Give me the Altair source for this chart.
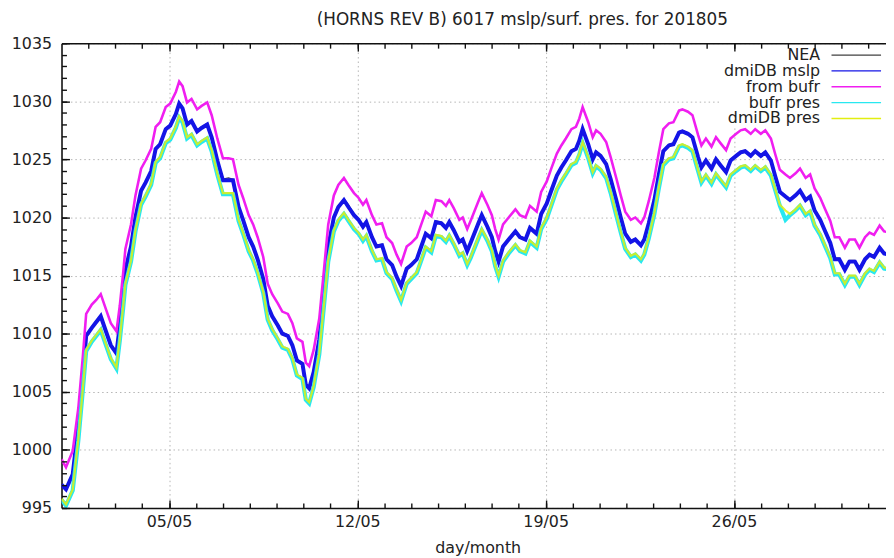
import altair as alt
import pandas as pd

FONT = "DejaVu Sans"

# hours since 2018-05-01 00:00
HOURS = [0, 4, 10, 15, 19, 22, 27, 31, 35, 40,
         44, 49, 52, 55, 57, 62, 66, 71, 75, 80,
         84, 88, 93, 97, 102, 105, 108, 112, 116, 121,
         125, 130, 134, 139, 144, 149, 153, 158, 162, 167,
         171, 175, 180, 184, 188, 193, 197, 202, 206, 210,
         215, 218, 221, 225, 230, 234, 238, 243, 247, 252,
         256, 261, 265, 269, 272, 277, 281, 286, 290, 295,
         299, 303, 308, 312, 317, 321, 325, 330, 334, 339,
         343, 346, 350, 355, 358, 362, 365, 372, 375, 380,
         384, 387, 390, 394, 399, 405, 409, 414, 418, 424,
         428, 433, 437, 442, 446, 450, 455, 459, 462, 465,
         470, 474, 477, 481, 486, 490, 495, 499, 503, 508,
         512, 517, 520, 524, 529, 533, 537, 542, 546, 551,
         554, 559, 563, 568, 571, 575, 580, 584, 588, 593,
         597, 602, 606, 610, 615, 619, 624, 628, 633, 637,
         641, 646, 650, 655, 659, 664, 668, 672, 677, 681,
         686, 690, 694, 699, 703, 708, 712, 717, 721, 725,
         730, 734, 739, 744]

NEA = [997.1, 996.7, 998.0, 1002.2, 1006.5, 1009.9, 1010.6, 1011.1, 1011.6, 1010.2,
       1009.1, 1008.4, 1010.8, 1013.6, 1015.6, 1017.6, 1020.1, 1022.4, 1023.1, 1024.1,
       1026.0, 1026.4, 1027.7, 1028.0, 1029.0, 1029.9, 1029.5, 1028.1, 1028.4, 1027.5,
       1027.8, 1028.1, 1027.0, 1025.0, 1023.3, 1023.4, 1023.3, 1021.0, 1019.9, 1018.4,
       1017.6, 1016.5, 1014.8, 1012.5, 1011.6, 1010.8, 1010.1, 1009.9, 1009.1, 1007.8,
       1007.5, 1005.7, 1005.4, 1006.8, 1009.6, 1013.6, 1017.6, 1020.1, 1021.0, 1021.6,
       1021.1, 1020.3, 1019.9, 1019.3, 1019.7, 1018.4, 1017.6, 1017.7, 1016.5, 1016.0,
       1015.0, 1014.2, 1015.7, 1016.0, 1016.5, 1017.6, 1018.7, 1018.3, 1019.7, 1019.6,
       1019.2, 1019.7, 1019.0, 1018.0, 1018.2, 1017.2, 1017.9, 1019.6, 1020.3, 1019.3,
       1018.4, 1017.2, 1016.3, 1017.6, 1018.2, 1018.9, 1018.4, 1018.2, 1019.2, 1018.7,
       1020.4, 1021.3, 1022.4, 1023.7, 1024.4, 1025.0, 1025.8, 1026.0, 1026.7, 1027.7,
       1026.4, 1025.1, 1025.7, 1025.4, 1024.7, 1023.4, 1021.6, 1020.1, 1018.7, 1018.0,
       1018.2, 1017.7, 1018.2, 1019.6, 1021.6, 1023.8, 1025.8, 1026.3, 1026.4, 1027.4,
       1027.5, 1027.3, 1027.0, 1025.3, 1024.4, 1025.0, 1024.3, 1025.1, 1024.6, 1024.0,
       1025.0, 1025.4, 1025.7, 1025.8, 1025.4, 1025.8, 1025.4, 1025.7, 1025.0, 1023.6,
       1022.3, 1021.9, 1021.6, 1022.0, 1022.4, 1021.6, 1021.9, 1020.7, 1019.9, 1019.0,
       1017.9, 1016.5, 1016.5, 1015.6, 1016.3, 1016.3, 1015.6, 1016.5, 1016.9, 1016.7,
       1017.5, 1017.0, 1016.9, 1016.6]

DMI_MSLP = [997.0, 996.6, 997.9, 1002.1, 1006.4, 1009.8, 1010.5, 1011.0, 1011.5, 1010.1,
            1009.0, 1008.3, 1010.7, 1013.5, 1015.5, 1017.5, 1020.0, 1022.3, 1023.0, 1024.0,
            1025.9, 1026.3, 1027.6, 1027.9, 1028.9, 1029.8, 1029.4, 1028.0, 1028.3, 1027.4,
            1027.7, 1028.0, 1026.9, 1024.9, 1023.2, 1023.2, 1023.2, 1020.9, 1019.8, 1018.3,
            1017.5, 1016.4, 1014.7, 1012.4, 1011.5, 1010.7, 1010.0, 1009.8, 1009.0, 1007.7,
            1007.4, 1005.6, 1005.3, 1006.7, 1009.5, 1013.5, 1017.5, 1020.0, 1020.9, 1021.5,
            1020.9, 1020.2, 1019.8, 1019.2, 1019.6, 1018.3, 1017.5, 1017.6, 1016.4, 1015.9,
            1014.9, 1014.1, 1015.6, 1015.9, 1016.4, 1017.5, 1018.6, 1018.2, 1019.6, 1019.5,
            1019.1, 1019.6, 1018.9, 1017.9, 1018.1, 1017.1, 1017.8, 1019.5, 1020.2, 1019.2,
            1018.3, 1017.1, 1016.2, 1017.5, 1018.1, 1018.8, 1018.3, 1018.1, 1019.1, 1018.6,
            1020.3, 1021.2, 1022.3, 1023.6, 1024.3, 1024.9, 1025.7, 1025.9, 1026.6, 1027.6,
            1026.3, 1025.0, 1025.6, 1025.3, 1024.6, 1023.3, 1021.5, 1020.0, 1018.6, 1017.9,
            1018.1, 1017.6, 1018.1, 1019.5, 1021.5, 1023.7, 1025.7, 1026.2, 1026.3, 1027.3,
            1027.4, 1027.2, 1026.9, 1025.2, 1024.3, 1024.9, 1024.2, 1025.0, 1024.5, 1023.9,
            1024.9, 1025.3, 1025.6, 1025.7, 1025.3, 1025.7, 1025.3, 1025.6, 1024.9, 1023.5,
            1022.2, 1021.8, 1021.5, 1021.9, 1022.3, 1021.5, 1021.8, 1020.6, 1019.8, 1018.9,
            1017.8, 1016.4, 1016.4, 1015.5, 1016.2, 1016.2, 1015.5, 1016.4, 1016.8, 1016.6,
            1017.4, 1016.9, 1016.8, 1016.5]

FROM_BUFR = [999.2, 998.5, 999.9, 1003.6, 1008.0, 1011.7, 1012.5, 1012.9, 1013.4, 1012.0,
             1010.9, 1010.2, 1012.4, 1015.2, 1017.3, 1019.4, 1021.9, 1024.2, 1024.9, 1025.9,
             1027.8, 1028.2, 1029.5, 1029.8, 1030.8, 1031.7, 1031.3, 1029.9, 1030.2, 1029.3,
             1029.6, 1029.9, 1028.8, 1026.8, 1025.1, 1025.1, 1025.0, 1022.8, 1021.7, 1020.2,
             1019.4, 1018.3, 1016.6, 1014.3, 1013.4, 1012.6, 1011.9, 1011.7, 1010.9, 1009.6,
             1009.3, 1007.5, 1007.2, 1008.6, 1011.3, 1015.3, 1019.4, 1021.9, 1022.8, 1023.4,
             1022.8, 1022.1, 1021.7, 1021.1, 1021.5, 1020.2, 1019.4, 1019.5, 1018.3, 1017.8,
             1016.8, 1016.0, 1017.5, 1017.8, 1018.3, 1019.4, 1020.5, 1020.1, 1021.5, 1021.4,
             1021.0, 1021.5, 1020.8, 1019.8, 1020.0, 1019.0, 1019.7, 1021.4, 1022.1, 1021.1,
             1020.2, 1019.0, 1018.1, 1019.4, 1020.0, 1020.7, 1020.2, 1020.0, 1021.0, 1020.5,
             1022.2, 1023.1, 1024.2, 1025.5, 1026.2, 1026.8, 1027.6, 1027.8, 1028.5, 1029.5,
             1028.2, 1026.9, 1027.5, 1027.2, 1026.5, 1025.2, 1023.4, 1021.9, 1020.5, 1019.8,
             1020.0, 1019.5, 1020.0, 1021.4, 1023.4, 1025.6, 1027.6, 1028.1, 1028.2, 1029.2,
             1029.3, 1029.1, 1028.8, 1027.1, 1026.2, 1026.8, 1026.1, 1026.9, 1026.4, 1025.8,
             1026.8, 1027.2, 1027.5, 1027.6, 1027.2, 1027.6, 1027.2, 1027.5, 1026.8, 1025.4,
             1024.1, 1023.7, 1023.4, 1023.8, 1024.2, 1023.4, 1023.7, 1022.5, 1021.7, 1020.8,
             1019.7, 1018.3, 1018.3, 1017.4, 1018.1, 1018.1, 1017.4, 1018.3, 1018.7, 1018.5,
             1019.3, 1018.8, 1018.7, 1018.4]

BUFR_PRES = [995.7, 995.2, 996.5, 1000.8, 1005.1, 1008.5, 1009.3, 1009.8, 1010.3, 1008.9,
             1007.8, 1007.0, 1009.4, 1012.2, 1014.2, 1016.2, 1018.8, 1021.1, 1021.8, 1022.8,
             1024.7, 1025.1, 1026.4, 1026.7, 1027.7, 1028.6, 1028.2, 1026.8, 1027.1, 1026.2,
             1026.5, 1026.8, 1025.7, 1023.7, 1022.0, 1022.0, 1022.0, 1019.7, 1018.6, 1017.1,
             1016.3, 1015.2, 1013.5, 1011.2, 1010.3, 1009.5, 1008.8, 1008.6, 1007.8, 1006.4,
             1006.1, 1004.3, 1004.0, 1005.4, 1008.2, 1012.2, 1016.2, 1018.8, 1019.7, 1020.3,
             1019.7, 1019.0, 1018.6, 1018.0, 1018.4, 1017.1, 1016.3, 1016.4, 1015.2, 1014.7,
             1013.7, 1012.8, 1014.3, 1014.7, 1015.2, 1016.3, 1017.4, 1017.0, 1018.4, 1018.3,
             1017.9, 1018.4, 1017.7, 1016.7, 1016.9, 1015.9, 1016.5, 1018.2, 1018.9, 1018.0,
             1017.1, 1015.8, 1014.9, 1016.2, 1016.9, 1017.6, 1017.1, 1016.9, 1017.9, 1017.4,
             1019.0, 1019.9, 1021.0, 1022.4, 1023.1, 1023.7, 1024.5, 1024.7, 1025.4, 1026.4,
             1025.1, 1023.8, 1024.4, 1024.1, 1023.4, 1022.1, 1020.2, 1018.7, 1017.3, 1016.6,
             1016.8, 1016.3, 1016.8, 1018.2, 1020.3, 1022.5, 1024.5, 1025.0, 1025.1, 1026.1,
             1026.2, 1026.0, 1025.7, 1024.0, 1023.0, 1023.6, 1022.9, 1023.7, 1023.2, 1022.6,
             1023.6, 1024.0, 1024.3, 1024.4, 1024.0, 1024.4, 1024.0, 1024.3, 1023.6, 1022.3,
             1021.0, 1019.8, 1020.2, 1020.6, 1021.0, 1020.2, 1020.5, 1019.3, 1018.5, 1017.6,
             1016.5, 1015.1, 1015.1, 1014.2, 1014.9, 1014.9, 1014.2, 1015.1, 1015.5, 1015.3,
             1016.1, 1015.6, 1015.5, 1015.2]

DMI_PRES = [995.8, 995.3, 996.6, 1000.9, 1005.2, 1008.6, 1009.4, 1009.9, 1010.4, 1009.0,
            1007.9, 1007.1, 1009.5, 1012.3, 1014.3, 1016.3, 1018.9, 1021.2, 1021.9, 1022.9,
            1024.8, 1025.2, 1026.5, 1026.8, 1027.8, 1028.7, 1028.3, 1026.9, 1027.2, 1026.3,
            1026.6, 1026.9, 1025.8, 1023.8, 1022.1, 1022.1, 1022.1, 1019.8, 1018.7, 1017.2,
            1016.4, 1015.3, 1013.6, 1011.3, 1010.4, 1009.6, 1008.9, 1008.7, 1007.9, 1006.5,
            1006.2, 1004.4, 1004.1, 1005.5, 1008.3, 1012.3, 1016.3, 1018.9, 1019.8, 1020.4,
            1019.8, 1019.1, 1018.7, 1018.1, 1018.5, 1017.2, 1016.4, 1016.5, 1015.3, 1014.8,
            1013.8, 1012.9, 1014.4, 1014.8, 1015.3, 1016.4, 1017.5, 1017.1, 1018.5, 1018.4,
            1018.0, 1018.5, 1017.8, 1016.8, 1017.0, 1016.0, 1016.6, 1018.3, 1019.0, 1018.1,
            1017.2, 1015.9, 1015.0, 1016.3, 1017.0, 1017.7, 1017.2, 1017.0, 1018.0, 1017.5,
            1019.1, 1020.0, 1021.1, 1022.5, 1023.2, 1023.8, 1024.6, 1024.8, 1025.5, 1026.5,
            1025.2, 1023.9, 1024.5, 1024.2, 1023.5, 1022.2, 1020.3, 1018.8, 1017.4, 1016.7,
            1016.9, 1016.4, 1016.9, 1018.3, 1020.4, 1022.6, 1024.6, 1025.1, 1025.2, 1026.2,
            1026.3, 1026.1, 1025.8, 1024.1, 1023.1, 1023.7, 1023.0, 1023.8, 1023.3, 1022.7,
            1023.7, 1024.1, 1024.4, 1024.5, 1024.1, 1024.5, 1024.1, 1024.4, 1023.7, 1022.4,
            1021.1, 1020.6, 1020.3, 1020.7, 1021.1, 1020.3, 1020.6, 1019.4, 1018.6, 1017.7,
            1016.6, 1015.2, 1015.2, 1014.3, 1015.0, 1015.0, 1014.3, 1015.2, 1015.6, 1015.4,
            1016.2, 1015.7, 1015.6, 1015.3]

SERIES = ["NEA", "dmiDB mslp", "from bufr", "bufr pres", "dmiDB pres"]
VALUES = [NEA, DMI_MSLP, FROM_BUFR, BUFR_PRES, DMI_PRES]
COLORS = ["#404040", "#1414e6", "#f01ef0", "#28e8f0", "#e2ee10"]
WIDTHS = [1.2, 4.0, 2.6, 4.2, 2.2]

MAJOR_DAYS = [5, 12, 19, 26]
MINOR_DAYS = list(range(2, 32))
Y_MAJOR = [995, 1000, 1005, 1010, 1015, 1020, 1025, 1030, 1035]
Y_MINOR = list(range(995, 1036))

TITLE = "(HORNS REV B) 6017 mslp/surf. pres. for 201805"

base = pd.Timestamp("2018-05-01 00:00")
times = [base + pd.Timedelta(hours=h) for h in HOURS]
frames = []
for name, vals in zip(SERIES, VALUES):
    frames.append(pd.DataFrame({"time": times, "value": vals, "series": name}))
df = pd.concat(frames, ignore_index=True)


def day(d):
    return alt.DateTime(year=2018, month=5, date=d, hours=0)


x_scale = alt.Scale(domain=[day(1), alt.DateTime(year=2018, month=5, date=31, hours=15, minutes=42)], nice=False)
y_scale = alt.Scale(domain=[995, 1035], nice=False, zero=False)

INK = "#111111"

main_x = alt.Axis(orient="bottom", values=[day(d) for d in MAJOR_DAYS], format="%d/%m",
                  labelFont=FONT, labelFontSize=16, labelColor="#222222", labelPadding=6,
                  labelFlush=False, labelOverlap=False,
                  ticks=False, tickSize=0, domain=True, domainColor=INK, domainWidth=1.6,
                  grid=True, gridColor="#b4b4b4", gridDash=[1.5, 3], gridWidth=1,
                  title="day/month", titleFont=FONT, titleFontSize=16, titleFontWeight="normal",
                  titleColor="#222222", titleX=420, titleY=40, titleBaseline="middle", zindex=0)
main_y = alt.Axis(orient="left", values=Y_MAJOR, format="d", labelFont=FONT, labelFontSize=16,
                  labelColor="#222222", labelPadding=10, labelOverlap=False,
                  ticks=False, tickSize=0, domain=True, domainColor=INK, domainWidth=1.6,
                  grid=True, gridColor="#b4b4b4", gridDash=[1.5, 3], gridWidth=1,
                  title=None, zindex=0)


def tick_axis(orient, values, size):
    return alt.Axis(orient=orient, values=values, ticks=True, tickSize=size, tickColor=INK,
                    tickWidth=1.4, offset=-size, domain=False, labels=False, grid=False,
                    title=None, zindex=1)


top_domain = alt.Axis(orient="top", values=[day(d) for d in MAJOR_DAYS], domain=True,
                      domainColor=INK, domainWidth=1.6, ticks=False, tickSize=0,
                      labels=False, grid=False, title=None, zindex=1)

legend = alt.Legend(title=None, orient="none", legendX=663.5, legendY=4, direction="vertical",
                    symbolType="M3.9,0H13.9", symbolSize=100, symbolStrokeWidth=1.4,
                    symbolOffset=86, labelAlign="right", labelOffset=0,
                    labelFont=FONT, labelFontSize=16,
                    labelColor="#222222", rowPadding=0, padding=0, fillColor="white",
                    symbolOpacity=1)

color = alt.Color("series:N", scale=alt.Scale(domain=SERIES, range=COLORS), legend=legend)

axes = [
    (main_x, main_y),
    (tick_axis("bottom", [day(d) for d in MAJOR_DAYS], 8), tick_axis("left", Y_MAJOR, 8)),
    (tick_axis("bottom", [day(d) for d in MINOR_DAYS], 5), tick_axis("left", Y_MINOR, 5)),
    (top_domain, None),
    (tick_axis("top", [day(d) for d in MAJOR_DAYS], 8), None),
]

layers = []
for i, name in enumerate(SERIES):
    xa, ya = axes[i]
    layers.append(
        alt.Chart(df).transform_filter(alt.datum.series == name)
        .mark_line(strokeWidth=WIDTHS[i], clip=True, opacity=0.85 if name == "dmiDB pres" else 1)
        .encode(
            x=alt.X("time:T", scale=x_scale, axis=xa),
            y=alt.Y("value:Q", scale=y_scale, axis=ya),
            color=color,
        )
    )

# invisible carrier for the top minor ticks
layers.append(
    alt.Chart(df).transform_filter(alt.datum.series == "NEA")
    .mark_line(strokeOpacity=0, clip=True)
    .encode(
        x=alt.X("time:T", scale=x_scale, axis=tick_axis("top", [day(d) for d in MINOR_DAYS], 5)),
        y=alt.Y("value:Q", scale=y_scale, axis=None),
    )
)

chart = (
    alt.layer(*layers)
    .resolve_axis(x="independent", y="independent")
    .properties(
        width=832, height=469,
        padding={"left": 54, "top": 33, "right": 0, "bottom": 47},
        autosize=alt.AutoSizeParams(type="none"),
        title=alt.TitleParams(TITLE, font=FONT, fontSize=17, fontWeight="normal",
                              color="#222222", anchor="middle", dx=49, dy=12, offset=5,
                              baseline="alphabetic"),
    )
    .configure_view(stroke=None)
)

chart.save("out.html", embed_options={"renderer": "svg", "actions": False})
